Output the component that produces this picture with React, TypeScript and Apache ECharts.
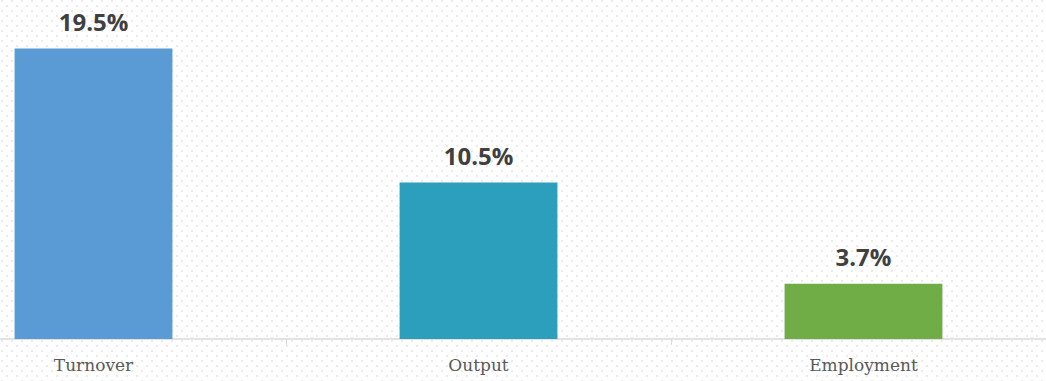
import React, { useEffect, useRef } from "react";
import * as echarts from "echarts";

const categories = ["Turnover", "Output", "Employment"];
const values = [19.5, 10.5, 3.7];
const colors = ["#5B9BD5", "#2C9FBD", "#70AD47"];

function makePattern(): string {
  const c = document.createElement("canvas");
  c.width = 10;
  c.height = 10;
  const ctx = c.getContext("2d")!;
  ctx.fillStyle = "#ffffff";
  ctx.fillRect(0, 0, 10, 10);
  ctx.fillStyle = "#ebebeb";
  ctx.fillRect(0, 0, 2, 2);
  ctx.fillRect(5, 5, 2, 2);
  return c.toDataURL();
}

export default function App() {
  const ref = useRef<HTMLDivElement>(null);
  useEffect(() => {
    if (!ref.current) return;
    const chart = echarts.init(ref.current, undefined, { renderer: "svg" });
    chart.setOption({
      animation: false,
      backgroundColor: { image: makePattern(), repeat: "repeat" } as any,
      grid: { left: 0, right: 0, top: 41, bottom: 42, containLabel: false },
      xAxis: {
        type: "category",
        data: categories,
        axisLine: { lineStyle: { color: "#d9d9d9", width: 1.5 } },
        axisTick: { show: true, length: 6, lineStyle: { color: "#d9d9d9" } },
        axisLabel: {
          color: "#595959",
          fontFamily: "DejaVu Serif, serif",
          fontSize: 17,
          margin: 17,
        },
      },
      yAxis: {
        type: "value",
        min: 0,
        max: 20,
        show: false,
        splitLine: { show: false },
      },
      series: [
        {
          type: "bar",
          barWidth: "41%",
          data: values.map((v, i) => ({ value: v, itemStyle: { color: colors[i] } })),
          label: {
            show: true,
            position: "top",
            distance: 15,
            formatter: (p: any) => p.value.toFixed(1) + "%",
            color: "#404040",
            fontFamily: "Open Sans, sans-serif",
            fontWeight: "bold",
            fontSize: 24,
          },
        },
      ],
    });
    return () => chart.dispose();
  }, []);
  return (
    <div
      style={{
        position: "absolute",
        left: 0,
        top: 0,
        width: 1046,
        height: 381,
        overflow: "hidden",
      }}
    >
      <div
        ref={ref}
        style={{ position: "absolute", left: -99, top: 0, width: 1155, height: 381 }}
      />
    </div>
  );
}
